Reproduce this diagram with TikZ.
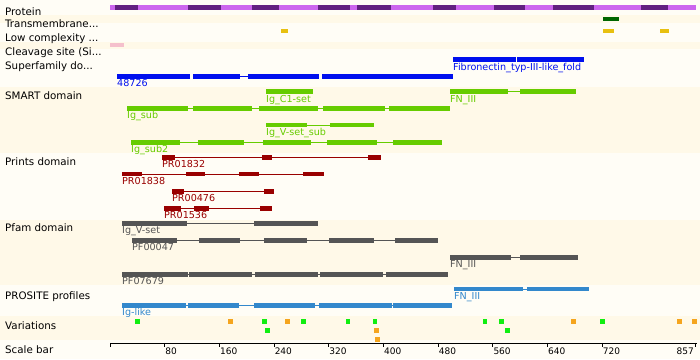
\documentclass[tikz,border=0pt]{standalone}
\usepackage{fontspec}
\setmainfont{DejaVu Sans}
\definecolor{bgw}{HTML}{FFFDF6}
\definecolor{bgc}{HTML}{FFF9E8}
\definecolor{plight}{HTML}{CC66EE}
\definecolor{pdark}{HTML}{622080}
\definecolor{tmc}{HTML}{006600}
\definecolor{lcc}{HTML}{E8C010}
\definecolor{clc}{HTML}{F5C0CC}
\definecolor{sfc}{HTML}{0010EE}
\definecolor{smc}{HTML}{66CC00}
\definecolor{prc}{HTML}{990000}
\definecolor{pfc}{HTML}{555555}
\definecolor{psc}{HTML}{3388CC}
\definecolor{vgr}{HTML}{11EE11}
\definecolor{vor}{HTML}{F5A51E}
\tikzset{
  lab/.style={anchor=base west, inner sep=0pt, text=black, font=\fontsize{10.3}{12}\selectfont},
  dlab/.style={anchor=base west, inner sep=0pt, font=\fontsize{9.6}{11}\selectfont},
  tlab/.style={anchor=base west, inner sep=0pt, font=\fontsize{9}{11}\selectfont},
}
% color, top y, line from, line to, blocks
\newcommand\trk[5]{%
  \draw[#1, line width=1pt] ({#3},{#2+2.35}) -- ({#4},{#2+2.35});
  \foreach \a/\b in {#5} {\fill[#1] (\a,{#2}) rectangle (\b,{#2+4.7});}
}
\newcommand\blks[3]{%
  \foreach \a/\b in {#3} {\fill[#1] (\a,{#2}) rectangle (\b,{#2+4.7});}
}
\newcommand\var[3]{\fill[#1] ({#2},{#3}) rectangle ({#2+4.7},{#3+4.7});}
\begin{document}
\begin{tikzpicture}[x=1pt,y=-1pt]
\useasboundingbox (0,0) rectangle (700,359);
% backgrounds
\fill[bgw] (0,0) rectangle (700,359);
\fill[bgc] (0,14.5) rectangle (700,22.5);
\fill[bgc] (0,41.5) rectangle (700,48.5);
\fill[bgc] (0,87) rectangle (700,153);
\fill[bgc] (0,220) rectangle (700,285);
\fill[bgc] (0,316) rectangle (700,339.5);
% row labels
\node[lab] (lprot) at (5,15) {Protein};
\node[lab] (ltm) at (5,27.8) {Transmembrane...};
\node[lab] (llc) at (5,41) {Low complexity ...};
\node[lab] (lcl) at (5,55) {Cleavage site (Si...};
\node[lab] (lsf) at (5,69) {Superfamily do...};
\node[lab] (lsm) at (5,99) {SMART domain};
\node[lab] (lpr) at (5,165.7) {Prints domain};
\node[lab] (lpf) at (5,231.3) {Pfam domain};
\node[lab] (lps) at (5,299) {PROSITE profiles};
\node[lab] (lva) at (5,329) {Variations};
\node[lab] (lsb) at (5,353) {Scale bar};
% protein
\fill[plight] (110,4.8) rectangle (696,9.6);
\foreach \a/\b in {115/137.7,187.7/220.7,251.7/279,317.7/350,357.3/390.7,432.7/456,494.3/525,552.7/594.3,640.7/668.3}
  {\fill[pdark] (\a,4.8) rectangle (\b,9.6);}
% transmembrane, low complexity, cleavage
\fill[tmc] (603.3,17.3) rectangle (618.7,21.3);
\foreach \a/\b in {281/287.7,603.3/614,660/669} {\fill[lcc] (\a,29.3) rectangle (\b,33.3);}
\fill[clc] (110,42.7) rectangle (124,46.7);
% superfamily
\blks{sfc}{57.3}{453.3/516.3,517.3/584}
\node[dlab, text=sfc] (sf1) at (453,70) {Fibronectin\_typ-III-like\_fold};
\trk{sfc}{74}{240}{248.3}{117.3/190,193.3/240,248.3/318.5,321.7/452.7}
\node[dlab, text=sfc] (sf2) at (117,86.7) {48726};
% SMART
\blks{smc}{89.3}{266/312.7}
\node[dlab, text=smc] (sm1) at (266,102) {Ig\_C1-set};
\trk{smc}{89.3}{508}{520}{450/508.3,520/576}
\node[dlab, text=smc] (sm2) at (450,102) {FN\_III};
\trk{smc}{106}{127}{450}{127/187.7,192.7/251.7,259.3/317.7,322.7/385,389.3/450}
\node[dlab, text=smc] (sm3) at (127,118.7) {Ig\_sub};
\trk{smc}{122.7}{266}{374}{266/306.7,330/374}
\node[dlab, text=smc] (sm4) at (266,135.4) {Ig\_V-set\_sub};
\trk{smc}{140}{131}{441.7}{131/180,198.3/244,263/311,327/376.7,393.3/441.7}
\node[dlab, text=smc] (sm5) at (131,152.5) {Ig\_sub2};
% Prints
\trk{prc}{155}{162}{381}{162/175,262.3/272,368.3/381}
\node[dlab, text=prc] (pr1) at (162,167.5) {PR01832};
\trk{prc}{171.7}{122}{324}{122/142.3,186/205,239.3/259,303/324}
\node[dlab, text=prc] (pr2) at (122,184.3) {PR01838};
\trk{prc}{189}{172}{274}{172/184.3,264/274}
\node[dlab, text=prc] (pr3) at (172,201.5) {PR00476};
\trk{prc}{206}{164}{271.7}{164/181,194/209,260/271.7}
\node[dlab, text=prc] (pr4) at (164,218.5) {PR01536};
% Pfam
\trk{pfc}{221}{122}{318}{122/187,254/318}
\node[dlab, text=pfc] (pf1) at (122,233.5) {Ig\_V-set};
\trk{pfc}{238}{132.3}{437.7}{132.3/176.7,199/240,264/307,329/374,395/437.7}
\node[dlab, text=pfc] (pf2) at (132,250.5) {PF00047};
\trk{pfc}{255}{450}{578}{450/511,520/578}
\node[dlab, text=pfc] (pf3) at (450,267.5) {FN\_III};
\trk{pfc}{272}{122}{447.7}{122/187.7,189.3/251.7,255.3/318.3,320/383.3,386/447.7}
\node[dlab, text=pfc] (pf4) at (122,284.5) {PF07679};
% PROSITE
\trk{psc}{286.7}{454}{589}{454/522.7,526.7/589}
\node[dlab, text=psc] (ps1) at (454,299.2) {FN\_III};
\trk{psc}{303.3}{122}{451.7}{122/185.7,188.3/239,254/315,319/391.7,393.3/451.7}
\node[dlab, text=psc] (ps2) at (122,315.8) {Ig-like};
% Variations
\var{vgr}{135}{319.3}
\var{vor}{228}{319.3}
\var{vgr}{262.3}{319.3}
\var{vor}{285}{319.3}
\var{vgr}{301}{319.3}
\var{vgr}{345.7}{319.3}
\var{vgr}{372.7}{319.3}
\var{vgr}{482.7}{319.3}
\var{vgr}{499}{319.3}
\var{vor}{571}{319.3}
\var{vgr}{600}{319.3}
\var{vor}{677.3}{319.3}
\var{vor}{692}{319.3}
\var{vgr}{265}{328.3}
\var{vor}{374}{328.3}
\var{vgr}{505}{328.3}
\var{vor}{375}{337.3}
% scale bar
\coordinate (s0) at (110,343.3);
\coordinate (s1) at (696.5,343.3);
\draw[black, line width=1pt] (s0) -- (s1);
\foreach \u in {0,80,160,240,320,400,480,560,640,720,857}
  {\draw[black, line width=1pt] ({110+0.6836*\u},342.8) -- ({110+0.6836*\u},347);}
\foreach \u in {80,160,240,320,400,480,560,640,720}
  {\node[tlab] (t\u) at ({110.5+0.6836*\u},354) {\u};}
\node[tlab, anchor=base east] (t857) at (694,354) {857};
\end{tikzpicture}
\end{document}
